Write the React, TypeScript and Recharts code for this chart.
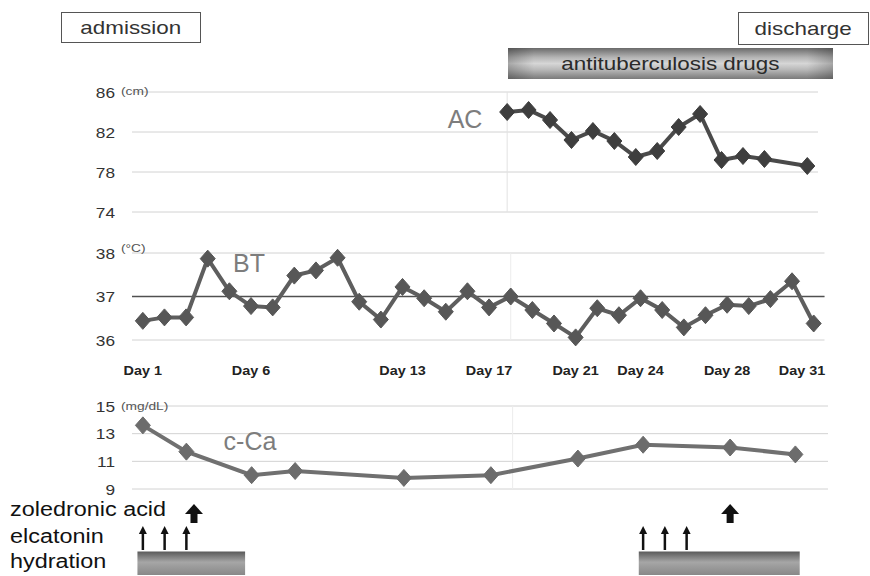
import React from 'react';
import {
  LineChart,
  Line,
  XAxis,
  YAxis,
  CartesianGrid,
  ReferenceLine,
  ReferenceArea,
  ComposedChart,
  Scatter,
} from 'recharts';

// abdominal circumference (cm), started with antituberculosis drugs
const acDays = [18, 19, 20, 21, 22, 23, 24, 25, 26, 27, 28, 29, 30, 32];
const acValues = [84.0, 84.2, 83.2, 81.2, 82.1, 81.1, 79.5, 80.1, 82.5, 83.8, 79.2, 79.6, 79.3, 78.6];

// body temperature (C), daily
const btDays = [
  1, 2, 3, 4, 5, 6, 7, 8, 9, 10, 11, 12, 13, 14, 15, 16,
  17, 18, 19, 20, 21, 22, 23, 24, 25, 26, 27, 28, 29, 30, 31, 32,
];
const btValues = [
  36.44, 36.52, 36.52, 37.87, 37.12, 36.78, 36.75, 37.48, 37.6, 37.89, 36.88, 36.47, 37.22, 36.96, 36.65, 37.12,
  36.75, 37.0, 36.69, 36.38, 36.06, 36.73, 36.57, 36.96, 36.69, 36.29, 36.57, 36.81, 36.78, 36.94, 37.35, 36.38,
];

// corrected calcium (mg/dL)
const caDays = [1, 3, 6, 8, 13, 17, 21, 24, 28, 31];
const caValues = [13.6, 11.7, 10.0, 10.3, 9.8, 10.0, 11.2, 12.2, 12.0, 11.5];

const dayTicks = [1, 6, 13, 17, 21, 24, 28, 31];
const acTicks = [74, 78, 82, 86];
const btTicks = [36, 37, 38];
const caTicks = [9, 11, 13, 15];
const btNormal = 37;
const drugStartDay = 18;

// treatments
const zoledronicDays = [3.35, 28];
const elcatoninDays = [1, 2, 3, 24, 25, 26];
const hydrationPeriods = [
  [0.75, 5.7],
  [23.8, 31.2],
];

const acData = acDays.map((d, i) => ({ day: d, value: acValues[i] }));
const btData = btDays.map((d, i) => ({ day: d, value: btValues[i] }));
const caData = caDays.map((d, i) => ({ day: d, value: caValues[i] }));
const zolData = zoledronicDays.map((d) => ({ day: d, row: 2.5 }));
const elcData = elcatoninDays.map((d) => ({ day: d, row: 1.5 }));

const FONT = '"Liberation Sans", Arial, sans-serif';
const X_DOMAIN: [number, number] = [0.5, 32.5];

const diamond = (fill: string, hw: number, hh: number) => (props: any) => {
  const { cx, cy, index } = props;
  if (cx == null || cy == null) return <g key={index} />;
  return (
    <polygon
      key={index}
      points={`${cx},${cy - hh} ${cx + hw},${cy} ${cx},${cy + hh} ${cx - hw},${cy}`}
      fill={fill}
      stroke={fill}
      strokeWidth={1}
    />
  );
};

const yTick = (top: number, unit: string, unitDy: number) => (props: any) => {
  const { x, y, payload } = props;
  return (
    <g>
      <text
        transform={`translate(${x} ${y}) scale(1.15 1)`}
        textAnchor="end"
        dominantBaseline="central"
        fontSize={15}
        fill="#333"
        fontFamily={FONT}
      >
        {payload.value}
      </text>
      {payload.value === top && (
        <text
          transform={`translate(${x + 6} ${y + unitDy}) scale(1.25 1)`}
          dominantBaseline="central"
          fontSize={11}
          fill="#555"
          fontFamily={FONT}
        >
          {unit}
        </text>
      )}
    </g>
  );
};

const dayTick = (props: any) => {
  const { x, y, payload } = props;
  const last = payload.value === dayTicks[dayTicks.length - 1];
  return (
    <text
      transform={`translate(${x + (last ? 10 : 0)} ${y}) scale(1.2 1)`}
      textAnchor="middle"
      dominantBaseline="central"
      fontSize={12}
      fontWeight="bold"
      fill="#222"
      fontFamily={FONT}
    >
      {`Day ${payload.value}`}
    </text>
  );
};

const BigArrow = (props: any) => {
  const { cx, cy } = props;
  return (
    <g>
      <polygon points={`${cx},${cy - 6} ${cx - 9},${cy + 4} ${cx + 9},${cy + 4}`} fill="#111" />
      <rect x={cx - 3.5} y={cy + 2} width={7} height={11} fill="#111" />
    </g>
  );
};

const ThinArrow = (props: any) => {
  const { cx, cy } = props;
  return (
    <g>
      <polygon points={`${cx},${cy - 10} ${cx - 4},${cy - 2} ${cx + 4},${cy - 2}`} fill="#111" />
      <line x1={cx} y1={cy - 3} x2={cx} y2={cy + 14} stroke="#111" strokeWidth={2.5} />
    </g>
  );
};

const bigText = (size: number, sx: number): React.CSSProperties => ({
  fontSize: size,
  fontFamily: FONT,
  display: 'inline-block',
  transform: `scaleX(${sx})`,
  whiteSpace: 'nowrap',
});

const seriesLabel = (left: number, top: number, text: string) => (
  <div
    style={{
      position: 'absolute',
      left,
      top,
      fontSize: 25,
      fontFamily: FONT,
      color: '#7d7d7d',
      transform: 'translate(-50%, -50%)',
      whiteSpace: 'nowrap',
    }}
  >
    {text}
  </div>
);

export default function App() {
  return (
    <div style={{ position: 'absolute', left: 0, top: 0, width: 870, height: 576, background: '#fff', overflow: 'hidden' }}>
      {/* top annotations */}
      <div
        style={{
          position: 'absolute', left: 61, top: 12, width: 140, height: 31, border: '1.5px solid #555',
          boxSizing: 'border-box', display: 'flex', alignItems: 'center', justifyContent: 'center', color: '#333',
        }}
      >
        <span style={bigText(19, 1.18)}>admission</span>
      </div>
      <div
        style={{
          position: 'absolute', left: 738, top: 12, width: 131, height: 33, border: '1.5px solid #555',
          boxSizing: 'border-box', display: 'flex', alignItems: 'center', justifyContent: 'center', color: '#333',
        }}
      >
        <span style={bigText(19, 1.18)}>discharge</span>
      </div>
      <div
        style={{
          position: 'absolute', left: 508, top: 48, width: 325, height: 31,
          background:
            'linear-gradient(to right, rgba(0,0,0,0.22), rgba(0,0,0,0) 8%, rgba(0,0,0,0) 92%, rgba(0,0,0,0.22)), linear-gradient(to bottom, #6a6a6a 0%, #b4b4b4 30%, #d6d6d6 50%, #b8b8b8 70%, #7a7a7a 100%)',
          display: 'flex', alignItems: 'center', justifyContent: 'center', color: '#2a2a2a',
        }}
      >
        <span style={bigText(19, 1.18)}>antituberculosis drugs</span>
      </div>

      {/* AC */}
      <div style={{ position: 'absolute', left: 0, top: 80 }}>
        <LineChart width={870} height={140} data={acData} margin={{ top: 12, right: 52, bottom: 8, left: 0 }}>
          <CartesianGrid vertical={false} stroke="#d2d2d2" />
          <XAxis dataKey="day" type="number" domain={X_DOMAIN} hide />
          <YAxis
            domain={[74, 86]}
            ticks={acTicks}
            interval={0}
            width={132}
            axisLine={false}
            tickLine={false}
            tickSize={0}
            tickMargin={17}
            tick={yTick(86, '(cm)', -1)}
          />
          <ReferenceLine x={drugStartDay} stroke="#e2e2e2" />
          <Line
            dataKey="value"
            stroke="#4a4a4a"
            strokeWidth={4}
            dot={diamond('#3e3e3e', 7.5, 8.5)}
            isAnimationActive={false}
          />
        </LineChart>
      </div>
      {seriesLabel(465, 119, 'AC')}

      {/* BT */}
      <div style={{ position: 'absolute', left: 0, top: 241 }}>
        <LineChart width={870} height={139} data={btData} margin={{ top: 12, right: 45.5, bottom: 0, left: 0 }}>
          <CartesianGrid vertical={false} stroke="#d2d2d2" />
          <XAxis
            dataKey="day"
            type="number"
            domain={X_DOMAIN}
            ticks={dayTicks}
            height={40}
            axisLine={false}
            tickLine={false}
            tickSize={0}
            tickMargin={31}
            tick={dayTick}
            interval={0}
          />
          <YAxis
            domain={[36, 38]}
            ticks={btTicks}
            interval={0}
            width={132}
            axisLine={false}
            tickLine={false}
            tickSize={0}
            tickMargin={17}
            tick={yTick(38, '(°C)', -5)}
          />
          <ReferenceLine x={drugStartDay} stroke="#ececec" />
          <ReferenceLine y={btNormal} stroke="#505050" strokeWidth={1.5} />
          <Line
            dataKey="value"
            stroke="#5e5e5e"
            strokeWidth={4}
            dot={diamond('#575757', 7.5, 8.5)}
            isAnimationActive={false}
          />
        </LineChart>
      </div>
      {seriesLabel(249, 263, 'BT')}

      {/* c-Ca */}
      <div style={{ position: 'absolute', left: 0, top: 394 }}>
        <LineChart width={870} height={103} data={caData} margin={{ top: 12, right: 42, bottom: 8, left: 0 }}>
          <CartesianGrid vertical={false} stroke="#d2d2d2" />
          <XAxis dataKey="day" type="number" domain={X_DOMAIN} hide />
          <YAxis
            domain={[9, 15]}
            ticks={caTicks}
            interval={0}
            width={132}
            axisLine={false}
            tickLine={false}
            tickSize={0}
            tickMargin={17}
            tick={yTick(15, '(mg/dL)', 0)}
          />
          <ReferenceLine x={drugStartDay} stroke="#ececec" />
          <Line
            dataKey="value"
            stroke="#707070"
            strokeWidth={4}
            dot={diamond('#6c6c6c', 7.5, 8.5)}
            isAnimationActive={false}
          />
        </LineChart>
      </div>
      {seriesLabel(250, 441, 'c-Ca')}

      {/* treatments */}
      <div style={{ position: 'absolute', left: 0, top: 485 }}>
        <ComposedChart width={870} height={91} margin={{ top: 12, right: 42, bottom: 1, left: 132 }}>
          <defs>
            <linearGradient id="hydGrad" x1="0" y1="0" x2="0" y2="1">
              <stop offset="0%" stopColor="#5a5a5a" />
              <stop offset="45%" stopColor="#a6a6a6" />
              <stop offset="100%" stopColor="#888888" />
            </linearGradient>
          </defs>
          <XAxis dataKey="day" type="number" domain={X_DOMAIN} hide />
          <YAxis dataKey="row" type="number" domain={[0, 3]} hide />
          {hydrationPeriods.map(([a, b], i) => (
            <ReferenceArea key={i} x1={a} x2={b} y1={0} y2={0.9} fill="url(#hydGrad)" fillOpacity={1} stroke="none" />
          ))}
          <Scatter data={zolData} dataKey="row" shape={BigArrow} isAnimationActive={false} />
          <Scatter data={elcData} dataKey="row" shape={ThinArrow} isAnimationActive={false} />
        </ComposedChart>
      </div>

      {/* treatment labels */}
      <div style={{ position: 'absolute', left: 10, top: 498, color: '#111' }}>
        <span style={{ ...bigText(20, 1.17), transformOrigin: 'left' }}>zoledronic acid</span>
      </div>
      <div style={{ position: 'absolute', left: 10, top: 525, color: '#111' }}>
        <span style={{ ...bigText(20, 1.17), transformOrigin: 'left' }}>elcatonin</span>
      </div>
      <div style={{ position: 'absolute', left: 10, top: 550, color: '#111' }}>
        <span style={{ ...bigText(20, 1.17), transformOrigin: 'left' }}>hydration</span>
      </div>
    </div>
  );
}
